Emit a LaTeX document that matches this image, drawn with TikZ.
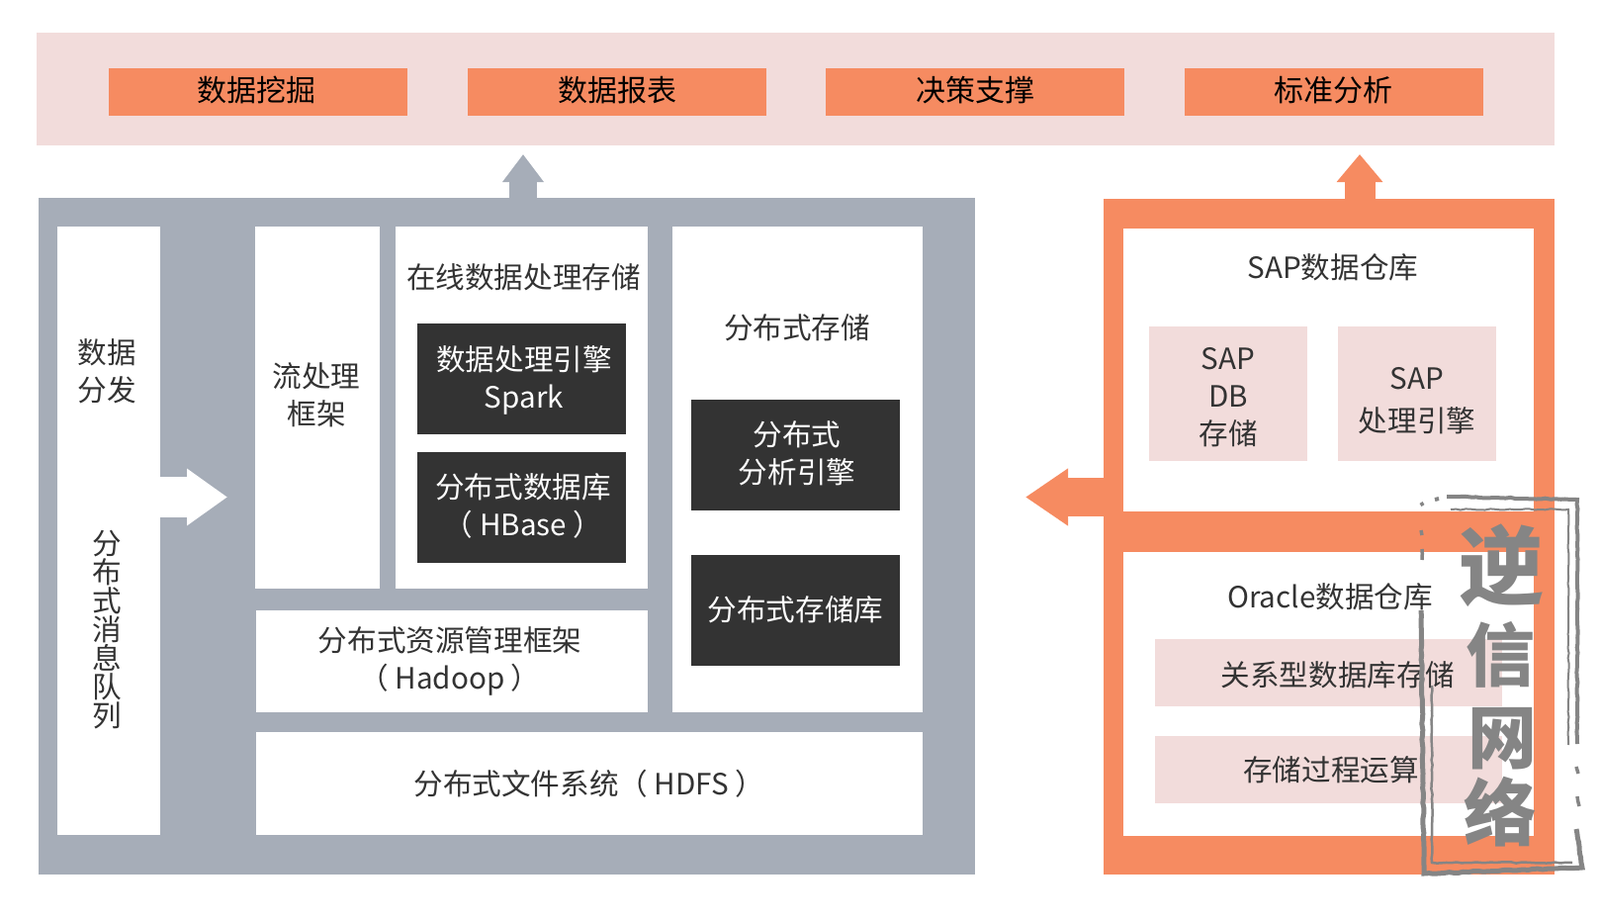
\documentclass[tikz,border=0pt]{standalone}
\usepackage{fontspec}
\setmainfont{Noto Sans CJK SC}
\definecolor{paleband}{HTML}{F2DCDB}
\definecolor{hotbox}{HTML}{F68B61}
\definecolor{slateback}{HTML}{A6ADB8}
\definecolor{darkbox}{HTML}{333333}
\definecolor{sealgray}{HTML}{858585}
\usetikzlibrary{positioning,arrows.meta,decorations.pathmorphing}

\begin{document}
\begin{tikzpicture}[x=1pt, y=-1pt, thick]
      \tikzstyle{every node}=[inner sep=0pt, outer sep=0pt, text=black!80]
      \tikzstyle{txt}=[font=\fontsize{29.6}{38}\selectfont, align=center]
      \tikzstyle{plate}=[fill=white, txt]
      \tikzstyle{pale}=[fill=paleband, txt]
      \tikzstyle{dark}=[fill=darkbox, text=white, txt, minimum width=211pt, minimum height=112pt]
      \tikzstyle{top}=[fill=hotbox, minimum width=302pt, minimum height=48pt]
      \tikzstyle{toptxt}=[text=black, font=\fontsize{30}{38}\selectfont]
      \tikzstyle{sealchar}=[text=sealgray, font=\fontsize{70}{70}\selectfont\bfseries]
      \tikzstyle{roughline}=[draw=sealgray, decorate, decoration={random steps, segment length=5pt, amplitude=0.6pt}]
      \useasboundingbox (0,0) rectangle (1618,932);

      % top band
      \node[fill=paleband, minimum width=1535pt, minimum height=113.5pt] (band) at (804.5,90.2) {};
      \node[top] (mining) at (261,93) {};
      \node[top, right=60.5pt of mining] (report) {};
      \node[top, right=60.5pt of report] (decision) {};
      \node[top, right=60.5pt of decision] (analysis) {};
      \node[toptxt] (miningtxt) at (259,91) {数据挖掘};
      \node[toptxt] (reporttxt) at (624,91) {数据报表};
      \node[toptxt] (decisiontxt) at (986,91) {决策支撑};
      \node[toptxt] (analysistxt) at (1348,91) {标准分析};

      % left block
      \node[fill=slateback, minimum width=947pt, minimum height=684pt] (hadoop) at (512,542) {};
      \node[plate, minimum width=104pt, minimum height=615pt] (queue) at (109.6,536.5) {};
      \node[txt, text=black!80] (dispatch) at (108,375) {数据\\分发};
      \node[txt, font=\fontsize{29.6}{29}\selectfont] (mq) at (108,637) {分\\布\\式\\消\\息\\队\\列};
      \node[plate, minimum width=126pt, minimum height=366.5pt] (stream) at (321,412.2) {};
      \node[txt] (streamtxt) at (320,399) {流处理\\框架};
      \node[plate, minimum width=255pt, minimum height=366.5pt] (online) at (527.5,412.2) {};
      \node[txt] (onlinetxt) at (529.5,280) {在线数据处理存储};
      \node[dark] (spark) at (527,383) {};
      \node[txt, text=white] (sparktxt) at (530,384.5) {数据处理引擎\\Spark};
      \node[dark] (hbase) at (527,513) {};
      \node[txt, text=white] (hbasetxt) at (529,511) {分布式数据库\\（ HBase ）};
      \node[plate, minimum width=396pt, minimum height=103pt] (yarn) at (457,668.5) {};
      \node[txt] (yarntxt) at (455,668.5) {分布式资源管理框架\\（ Hadoop ）};
      \node[plate, minimum width=253pt, minimum height=491pt] (dist) at (806.5,474.5) {};
      \node[txt] (disttxt) at (806,331) {分布式存储};
      \node[dark] (engine) at (804.5,460) {};
      \node[txt, text=white] (enginetxt) at (806,458) {分布式\\分析引擎};
      \node[dark] (store) at (804.5,616.5) {分布式存储库};
      \node[plate, minimum width=674pt, minimum height=104pt] (hdfs) at (596,792) {分布式文件系统（ HDFS ）};

      % right block
      \node[fill=hotbox, minimum width=456.5pt, minimum height=683pt] (warehouse) at (1343.8,542.5) {};
      \node[plate, minimum width=415pt, minimum height=286pt] (sap) at (1343.5,374) {};
      \node[txt] (saptxt) at (1348,270) {SAP数据仓库};
      \node[pale, minimum width=160pt, minimum height=136pt] (sapdb) at (1242,398) {};
      \node[txt] (sapdbtxt) at (1242,402) {SAP\\DB\\存储};
      \node[pale, minimum width=160pt, minimum height=136pt] (sapengine) at (1433,398) {};
      \node[txt, font=\fontsize{29.6}{43}\selectfont] (sapenginetxt) at (1433,405) {SAP\\处理引擎};
      \node[plate, minimum width=415pt, minimum height=287pt] (oracle) at (1343.5,701) {};
      \node[txt] (oracletxt) at (1345,603) {Oracle数据仓库};
      \node[pale, minimum width=351pt, minimum height=68pt] (relational) at (1343.5,680) {};
      \node[txt] (relationaltxt) at (1353,682) {关系型数据库存储};
      \node[pale, minimum width=351pt, minimum height=68pt] (procedure) at (1343.5,778) {};
      \node[txt] (proceduretxt) at (1346,778) {存储过程运算};

      % block arrows
      \coordinate (uptipL) at (529,156);
      \coordinate (uptipR) at (1375,156);
      \coordinate (intip) at (230,502.5);
      \coordinate (lefttip) at (1037,502.5);
      \draw[draw=slateback, line width=28pt, -{Triangle[width=40pt, length=28pt]}] (hadoop.north -| uptipL) -- (uptipL);
      \draw[draw=hotbox, line width=31pt, -{Triangle[width=45pt, length=28pt]}] (warehouse.north -| uptipR) -- (uptipR);
      \draw[draw=white, line width=41pt, -{Triangle[width=55pt, length=41pt]}] (queue.east |- intip) -- (intip);
      \draw[draw=hotbox, line width=39pt, -{Triangle[width=55pt, length=43pt]}] (warehouse.west |- lefttip) -- (lefttip);

      % seal
      \node[sealchar, font=\fontsize{86}{86}\selectfont\bfseries] (sealA) at (1518,572) {逆};
      \node[sealchar] (sealB) at (1517,662) {信};
      \node[sealchar] (sealC) at (1519,747) {网};
      \node[sealchar, font=\fontsize{74}{74}\selectfont\bfseries] (sealD) at (1517,821) {络};
      \coordinate (sealTL) at (1463,502);
      \coordinate (sealTR) at (1595,505);
      \coordinate (sealBR) at (1600,877);
      \coordinate (sealBL) at (1440,883);
      \draw[roughline, line width=4pt] (sealTL) -- (sealTR) -- (1595,752);
      \draw[roughline, line width=5pt] (1437,617) -- (sealBL) -- (sealBR) -- (1594,838);
      \draw[roughline, line width=2pt] (1467,515) -- (1586,515) -- (1586,753);
      \draw[roughline, line width=2.5pt] (1448,693) -- (1448,872) -- (1590,872);
      \draw[roughline, line width=3.5pt] (1437,536) -- (1438,541);
      \draw[roughline, line width=3.5pt] (1438,555) -- (1438,566);
      \draw[roughline, line width=3.5pt] (1437,508) -- (1439,511);
      \draw[roughline, line width=4pt] (1451,505) -- (1455,504);
      \draw[roughline, line width=3.5pt] (1594,775) -- (1596,782);
      \draw[roughline, line width=3.5pt] (1595,805) -- (1597,815);

      \end{tikzpicture}
\end{document}
